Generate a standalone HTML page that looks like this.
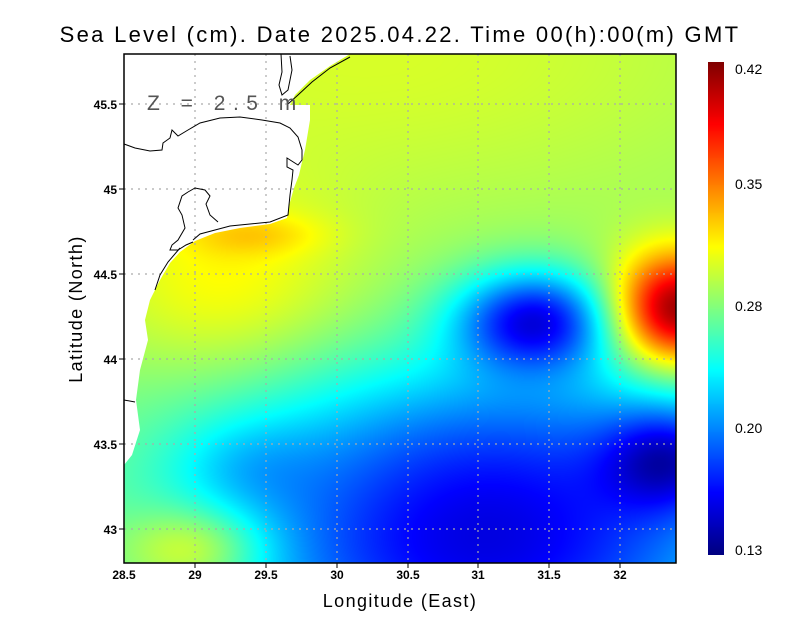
<!DOCTYPE html>
<html><head><meta charset="utf-8"><style>
html,body{margin:0;padding:0;background:#fff;}
#w{position:relative;width:800px;height:618px;overflow:hidden;font-family:"Liberation Sans",sans-serif;}
canvas{position:absolute;}
svg{position:absolute;left:0;top:0;}
</style></head><body><div id="w">
<canvas id="c" width="552" height="509" style="left:124px;top:54px"></canvas>
<canvas id="cb" width="16" height="493" style="left:708px;top:62px"></canvas>
<svg width="800" height="618" viewBox="0 0 800 618">
<g stroke="#aaa" stroke-width="1.2" stroke-dasharray="2,5">
<line x1="195" y1="54" x2="195" y2="563"/><line x1="266" y1="54" x2="266" y2="563"/><line x1="337" y1="54" x2="337" y2="563"/><line x1="408" y1="54" x2="408" y2="563"/><line x1="478" y1="54" x2="478" y2="563"/><line x1="549" y1="54" x2="549" y2="563"/><line x1="620" y1="54" x2="620" y2="563"/>
<line x1="124" y1="104" x2="676" y2="104"/><line x1="124" y1="189" x2="676" y2="189"/><line x1="124" y1="274" x2="676" y2="274"/><line x1="124" y1="359" x2="676" y2="359"/><line x1="124" y1="444" x2="676" y2="444"/><line x1="124" y1="529" x2="676" y2="529"/>
</g>
<path d="M124,54 L350,54 L330,66 L310,80 L295,95 L290,105 L310,105 L310,120 L305,150 L302,162 L299,175 L294,188 L290,202 L287,218 L270,224 L240,228 L215,233 L195,241 L180,252 L170,263 L160,280 L150,300 L145,320 L148,340 L140,370 L136,400 L140,430 L132,455 L124,465 Z" fill="#fff"/>
<g stroke="#aaa" stroke-width="1.2" stroke-dasharray="2,5">
<line x1="195" y1="54" x2="195" y2="465"/><line x1="266" y1="54" x2="266" y2="240"/>
<line x1="124" y1="104" x2="300" y2="104"/><line x1="124" y1="189" x2="300" y2="189"/><line x1="124" y1="274" x2="170" y2="274"/><line x1="124" y1="359" x2="150" y2="359"/><line x1="124" y1="444" x2="140" y2="444"/>
</g>
<g fill="none" stroke="#000" stroke-width="1">
<path d="M350,57 L330,68 L312,82 L298,95 L288,104"/>
<path d="M281,54 L282,72 L279,85 L282,95 L288,90 L292,70 L290,56"/>
<path d="M124,144 L135,148 L150,151 L162,150 L163,143 L170,138 L172,130 L178,136 L188,130 L200,123 L220,118 L240,117 L262,120 L280,123 L290,128 L298,137 L302,150 L302,160 L298,165 L287,158 L287,167 L293,170 L292,180 L290,195 L288,215 L270,222 L250,224 L230,226 L215,230 L200,234 L193,240"/>
<path d="M188,192 L182,196 L178,208 L182,215 L185,228 L178,240 L172,245 L170,250 L178,250 L186,245 L193,242"/>
<path d="M188,192 L195,188 L205,190 L210,196 L206,204 L210,215 L218,222"/>
<path d="M180,248 L168,262 L160,275 L155,290"/>
<path d="M124,400 L135,402"/>
</g>
<text x="147" y="110" font-size="21" fill="#555" letter-spacing="7.5">Z = 2.5 m</text>
<rect x="124" y="54" width="552" height="509" fill="none" stroke="#000" stroke-width="1.5"/>
<g stroke="#000" stroke-width="1">
<line x1="195" y1="563" x2="195" y2="568"/><line x1="266" y1="563" x2="266" y2="568"/><line x1="337" y1="563" x2="337" y2="568"/><line x1="408" y1="563" x2="408" y2="568"/><line x1="478" y1="563" x2="478" y2="568"/><line x1="549" y1="563" x2="549" y2="568"/><line x1="620" y1="563" x2="620" y2="568"/>
<line x1="119" y1="104" x2="124" y2="104"/><line x1="119" y1="189" x2="124" y2="189"/><line x1="119" y1="274" x2="124" y2="274"/><line x1="119" y1="359" x2="124" y2="359"/><line x1="119" y1="444" x2="124" y2="444"/><line x1="119" y1="529" x2="124" y2="529"/>
</g>
<g font-size="12" font-weight="bold" text-anchor="middle" fill="#000">
<text x="124" y="579">28.5</text><text x="195" y="579">29</text><text x="266" y="579">29.5</text><text x="337" y="579">30</text><text x="408" y="579">30.5</text><text x="478" y="579">31</text><text x="549" y="579">31.5</text><text x="620" y="579">32</text>
</g>
<g font-size="12" font-weight="bold" text-anchor="end" fill="#000">
<text x="117" y="109">45.5</text><text x="117" y="194">45</text><text x="117" y="279">44.5</text><text x="117" y="364">44</text><text x="117" y="449">43.5</text><text x="117" y="534">43</text>
</g>
<text x="400" y="42" font-size="22" text-anchor="middle" letter-spacing="2.3">Sea Level (cm). Date 2025.04.22. Time 00(h):00(m) GMT</text>
<text x="400" y="607" font-size="18" text-anchor="middle" letter-spacing="1.4">Longitude (East)</text>
<text transform="translate(82,309) rotate(-90)" font-size="18" text-anchor="middle" letter-spacing="1.4">Latitude (North)</text>
<g font-size="14" fill="#000">
<text x="735" y="74">0.42</text><text x="735" y="189">0.35</text><text x="735" y="311">0.28</text><text x="735" y="433">0.20</text><text x="735" y="555">0.13</text>
</g>
</svg>
</div>
<script>
function cl(v){return v<0?0:v>1?1:v;}
function jet(t){t=cl(t);return [cl(1.5-Math.abs(4*t-3)),cl(1.5-Math.abs(4*t-2)),cl(1.5-Math.abs(4*t-1))];}
function g(dx,dy,sx,sy){return Math.exp(-0.5*(dx*dx/(sx*sx)+dy*dy/(sy*sy)));}
function val(x,y){
 return 0.28+0.02*g(x-250,y,300,120)+0.03*g(x-100,y-230,90,70)+0.02*g(x-130,y-180,50,15)
 +0.05*g(x-70,y-495,50,30)-0.02*g(x-120,y-410,50,35)
 -0.11*g(x-360,y-509,190,90)-0.05*g(x-380,y-380,200,70)
 -0.11*g(x-410,y-265,55,35)-0.07*g(x-545,y-405,45,35)
 +0.14*g(x-552,y-256,45,40);
}
var c=document.getElementById('c'),ctx=c.getContext('2d'),im=ctx.createImageData(552,509);
for(var y=0;y<509;y++)for(var x=0;x<552;x++){var t=(val(x,y)-0.13)/0.29;var k=jet(t);var i=(y*552+x)*4;im.data[i]=k[0]*255;im.data[i+1]=k[1]*255;im.data[i+2]=k[2]*255;im.data[i+3]=255;}
ctx.putImageData(im,0,0);
var b=document.getElementById('cb'),bx=b.getContext('2d');
for(var y=0;y<493;y++){var k=jet(1-y/492);bx.fillStyle='rgb('+Math.round(k[0]*255)+','+Math.round(k[1]*255)+','+Math.round(k[2]*255)+')';bx.fillRect(0,y,16,1);}
</script>
</body></html>
